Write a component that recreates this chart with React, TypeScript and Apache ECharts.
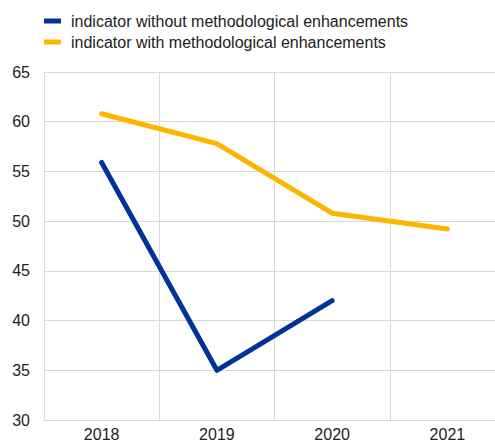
import React, { useEffect, useRef } from "react";
import * as echarts from "echarts";

const categories = ["2018", "2019", "2020", "2021"];
const withoutEnh = [55.9, 35.0, 42.0, null];
const withEnh = [60.8, 57.8, 50.8, 49.2];
const seriesNames = [
  "indicator without methodological enhancements",
  "indicator with methodological enhancements",
];

export default function App() {
  const ref = useRef<HTMLDivElement>(null);
  useEffect(() => {
    const chart = echarts.init(ref.current!, null, { renderer: "svg" });
    chart.setOption({
      animation: false,
      textStyle: { fontFamily: "'Liberation Sans', Arial, sans-serif" },
      legend: {
        orient: "vertical",
        left: 39,
        top: 8,
        itemWidth: 17,
        itemHeight: 5,
        itemGap: 5,
        icon: "rect",
        textStyle: {
          fontSize: 16,
          color: "#222",
          padding: [0, 0, 0, 5],
          fontFamily: "'Liberation Sans', Arial, sans-serif",
        },
        data: seriesNames,
      },
      grid: { left: 44, top: 72, right: -10, bottom: 26, containLabel: false, outerBoundsMode: "none" },
      xAxis: {
        type: "category",
        data: categories,
        boundaryGap: true,
        axisLine: { show: true, lineStyle: { color: "#d9d9d9", width: 1 } },
        axisTick: { show: false },
        axisLabel: { fontSize: 16, color: "#222", margin: 6 },
        splitLine: { show: true, lineStyle: { color: "#d9d9d9", width: 1 } },
      },
      yAxis: {
        type: "value",
        min: 30,
        max: 65,
        interval: 5,
        axisLine: { show: false },
        axisTick: { show: false },
        axisLabel: { fontSize: 16, color: "#222", margin: 14 },
        splitLine: { show: true, lineStyle: { color: "#d9d9d9", width: 1 } },
      },
      series: [
        {
          name: seriesNames[0],
          type: "line",
          data: withoutEnh,
          showSymbol: false,
          symbol: "none",
          itemStyle: { color: "#003299" },
          lineStyle: { color: "#003299", width: 5, cap: "round", join: "round" },
        },
        {
          name: seriesNames[1],
          type: "line",
          data: withEnh,
          showSymbol: false,
          symbol: "none",
          itemStyle: { color: "#FFB400" },
          lineStyle: { color: "#FFB400", width: 5, cap: "round", join: "round" },
        },
      ],
    });
    return () => chart.dispose();
  }, []);
  return <div ref={ref} style={{ width: 495, height: 446, position: "absolute", left: 0, top: 0 }} />;
}
